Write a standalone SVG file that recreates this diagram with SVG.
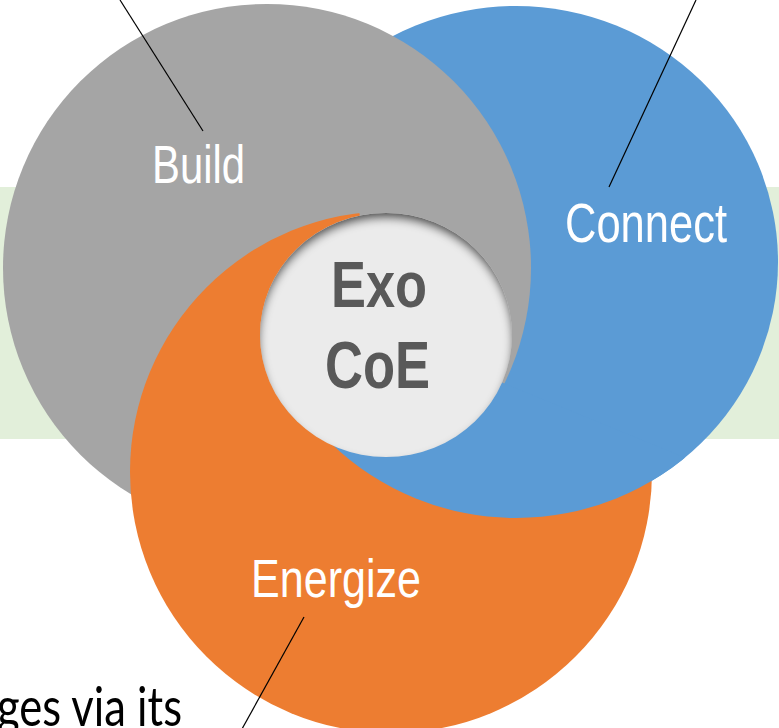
<svg xmlns="http://www.w3.org/2000/svg" width="779" height="728" viewBox="0 0 779 728">
  <style>
    .lbl { font-family: "Liberation Sans", Arial, sans-serif; fill: #FFFFFF; }
    .core { font-family: "Liberation Sans", Arial, sans-serif; font-weight: bold; fill: #595959; }
    .body { font-family: Lato, "Liberation Sans", Arial, sans-serif; fill: #000000; }
    .leader { stroke: #000000; stroke-width: 1.2; fill: none; }
  </style>
  <defs>
    <clipPath id="clipOrange">
      <polygon points="386,335 1606,915 1606,1500 -1000,1500 -1000,-1000 126,-855"/>
    </clipPath>
    <clipPath id="clipBlue">
      <polygon points="386,335 1606,835 1606,1500 -304,1500"/>
    </clipPath>
    <filter id="inset" x="-20%" y="-20%" width="140%" height="140%">
      <feComponentTransfer in="SourceAlpha" result="inv">
        <feFuncA type="table" tableValues="1 0"/>
      </feComponentTransfer>
      <feGaussianBlur in="inv" stdDeviation="4.5"/>
      <feOffset dx="0" dy="6" result="ob"/>
      <feFlood flood-color="#000000" flood-opacity="0.9"/>
      <feComposite in2="ob" operator="in"/>
      <feComposite in2="SourceAlpha" operator="in" result="shadow"/>
      <feMerge>
        <feMergeNode in="SourceGraphic"/>
        <feMergeNode in="shadow"/>
      </feMerge>
    </filter>
  </defs>

  <rect id="band" x="0" y="187" width="779" height="252" fill="#E2EFDA"/>

  <g id="connect">
    <ellipse cx="516" cy="262" rx="262" ry="256" fill="#5B9BD5"/>
  </g>
  <g id="build">
    <circle cx="267" cy="268" r="264" fill="#A5A5A5"/>
  </g>
  <g id="energize">
    <circle cx="391" cy="472" r="261" fill="#ED7D31" clip-path="url(#clipOrange)"/>
  </g>
  <g id="connect-front">
    <ellipse cx="516" cy="262" rx="262" ry="256" fill="#5B9BD5" clip-path="url(#clipBlue)"/>
  </g>

  <g id="core">
    <ellipse cx="386" cy="335" rx="126" ry="122" fill="#EBEBEB" filter="url(#inset)"/>
    <text class="core" x="331" y="307" font-size="65" textLength="96" lengthAdjust="spacingAndGlyphs">Exo</text>
    <text class="core" x="325" y="388" font-size="66" textLength="105" lengthAdjust="spacingAndGlyphs">CoE</text>
  </g>

  <g id="labels">
    <text class="lbl" x="152" y="183" font-size="53" textLength="93" lengthAdjust="spacingAndGlyphs">Build</text>
    <text class="lbl" x="565" y="242" font-size="55" textLength="162" lengthAdjust="spacingAndGlyphs">Connect</text>
    <text class="lbl" x="251" y="597" font-size="53" textLength="170" lengthAdjust="spacingAndGlyphs">Energize</text>
  </g>

  <g id="connectors">
    <line class="leader" x1="120" y1="0" x2="203" y2="131"/>
    <line class="leader" x1="696" y1="0" x2="609" y2="187"/>
    <line class="leader" x1="304" y1="617" x2="237" y2="738"/>
  </g>

  <text class="body" x="-3" y="726" font-size="54" textLength="185" lengthAdjust="spacingAndGlyphs">ges via its</text>
</svg>
